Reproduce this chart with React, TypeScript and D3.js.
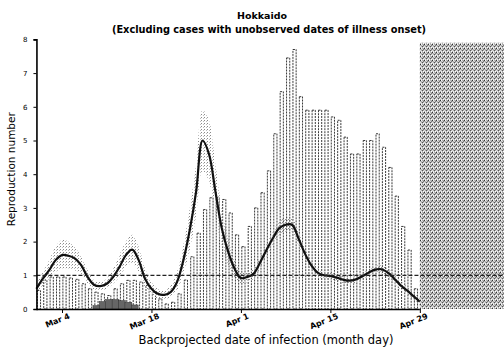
import { useEffect, useRef } from "react";
import * as d3 from "d3";

// daily values, first day = Feb 29 2020
const firstDay = new Date(2020, 1, 29);

// Rt estimate (thick line), Feb 29 .. Apr 29
const rtMedian = [0.6, 0.9, 1.15, 1.45, 1.6, 1.58, 1.5, 1.3, 0.95, 0.72,
    0.68, 0.75, 0.95, 1.25, 1.6, 1.76, 1.45, 0.9, 0.6, 0.45,
    0.42, 0.5, 0.8, 1.45, 2.35, 3.5, 5.0, 4.6, 3.5, 2.4,
    1.7, 1.2, 0.92, 0.95, 1.05, 1.38, 1.75, 2.1, 2.4, 2.5,
    2.5, 2.1, 1.65, 1.3, 1.08, 1.0, 0.98, 0.93, 0.87, 0.84,
    0.88, 0.97, 1.08, 1.17, 1.18, 1.08, 0.9, 0.7, 0.55, 0.38, 0.22];

const rtUpper = [0.75, 1.1, 1.45, 1.85, 2.05, 2.0, 1.85, 1.55, 1.15, 0.85,
    0.8, 0.9, 1.2, 1.6, 2.0, 2.2, 1.85, 1.2, 0.8, 0.6,
    0.55, 0.7, 1.1, 1.9, 3.0, 4.3, 5.9, 5.6, 4.3, 3.0,
    2.1, 1.45, 1.1, 1.1, 1.2, 1.55, 1.95, 2.3, 2.6, 2.7,
    2.7, 2.3, 1.8, 1.45, 1.2, 1.1, 1.08, 1.03, 0.97, 0.94,
    0.98, 1.07, 1.18, 1.28, 1.3, 1.2, 1.02, 0.82, 0.67, 0.5, 0.35];

const rtLower = [0.45, 0.7, 0.9, 1.1, 1.2, 1.2, 1.15, 1.05, 0.75, 0.58,
    0.55, 0.6, 0.75, 0.95, 1.25, 1.35, 1.1, 0.65, 0.42, 0.3,
    0.3, 0.35, 0.55, 1.05, 1.75, 2.8, 4.1, 3.8, 2.7, 1.85,
    1.3, 0.95, 0.75, 0.8, 0.9, 1.2, 1.55, 1.9, 2.2, 2.3,
    2.3, 1.9, 1.5, 1.15, 0.95, 0.9, 0.88, 0.83, 0.77, 0.74,
    0.78, 0.87, 0.98, 1.06, 1.06, 0.96, 0.78, 0.58, 0.43, 0.26, 0.1];

// backprojected infections (bars), drawn on the same vertical scale, Feb 29 .. Apr 28
const infections = [0.55, 0.85, 0.95, 0.95, 0.95, 0.92, 0.88, 0.75, 0.6, 0.5,
    0.45, 0.4, 0.6, 0.75, 0.85, 0.85, 0.8, 0.7, 0.5, 0.3,
    0.15, 0.2, 0.45, 0.86, 1.55, 2.25, 2.95, 3.3, 3.3, 3.25,
    2.85, 2.2, 1.85, 2.45, 3.0, 3.45, 4.1, 5.2, 6.45, 7.45,
    7.7, 6.3, 5.9, 5.9, 5.9, 5.9, 5.7, 5.6, 5.1, 4.6,
    4.6, 5.0, 5.0, 5.2, 4.8, 4.2, 3.35, 2.45, 1.75, 0.6];

// second (dark) bar series, Mar 9 .. Mar 15
const otherStart = new Date(2020, 2, 9);
const otherCases = [0.1, 0.22, 0.28, 0.28, 0.25, 0.2, 0.12];

const tickDates = [new Date(2020, 2, 4), new Date(2020, 2, 18), new Date(2020, 3, 1),
    new Date(2020, 3, 15), new Date(2020, 3, 29)];
const yTicks = [0, 1, 2, 3, 4, 5, 6, 7, 8];
const cutoff = new Date(2020, 3, 29);

const dayAt = (start: Date, i: number) => d3.timeDay.offset(start, i);

export default function App() {
    const svgRef = useRef<SVGSVGElement | null>(null);
    const W = 504;
    const H = 350;

    useEffect(() => {
        document.body.style.margin = "0";
        const svg = d3.select(svgRef.current);
        svg.selectAll("*").remove();

        const pxPerDay = 6.39;
        const x0 = 62 - 4 * pxPerDay;
        const x = d3.scaleTime()
            .domain([firstDay, d3.timeDay.offset(firstDay, 75)])
            .range([x0, x0 + 75 * pxPerDay]);
        const y = d3.scaleLinear().domain([0, 8]).range([309, 39.4]);
        const font = "DejaVu Sans, sans-serif";

        const defs = svg.append("defs");
        const dots = defs.append("pattern")
            .attr("id", "ci-dots")
            .attr("width", 3).attr("height", 3)
            .attr("patternUnits", "userSpaceOnUse");
        dots.append("rect").attr("x", 0).attr("y", 0).attr("width", 1).attr("height", 1).attr("fill", "#8a8a8a");
        dots.append("rect").attr("x", 2).attr("y", 1).attr("width", 1).attr("height", 1).attr("fill", "#bdbdbd");

        const dither = defs.append("pattern")
            .attr("id", "dither")
            .attr("width", 4).attr("height", 4)
            .attr("patternUnits", "userSpaceOnUse");
        dither.append("rect").attr("width", 4).attr("height", 4).attr("fill", "#b0b0b0");
        const px: [number, number, string][] = [[0, 0, "#333"], [2, 2, "#555"], [3, 1, "#777"],
            [1, 0, "#f4f4f4"], [3, 3, "#fff"], [0, 2, "#e8e8e8"], [2, 1, "#d6d6d6"], [1, 3, "#ececec"]];
        px.forEach(([a, b, c]) => dither.append("rect").attr("x", a).attr("y", b).attr("width", 1).attr("height", 1).attr("fill", c));

        // titles
        svg.append("text").attr("x", 262).attr("y", 19).attr("text-anchor", "middle")
            .style("font-family", font).style("font-weight", "bold").style("font-size", "9.5px")
            .text("Hokkaido");
        svg.append("text").attr("x", 269).attr("y", 33).attr("text-anchor", "middle")
            .style("font-family", font).style("font-weight", "bold").style("font-size", "9.8px")
            .text("(Excluding cases with unobserved dates of illness onset)");

        // bars
        const barW = 3.2;
        svg.append("g").selectAll("rect")
            .data(infections)
            .join("rect")
            .attr("x", (_d, i) => x(dayAt(firstDay, i)) + 2.5 - barW / 2)
            .attr("y", d => y(d))
            .attr("width", barW)
            .attr("height", d => y(0) - y(d))
            .attr("fill", "none")
            .attr("stroke", "#222")
            .attr("stroke-width", 0.9)
            .attr("stroke-dasharray", "2,1");

        svg.append("g").selectAll("rect")
            .data(otherCases)
            .join("rect")
            .attr("x", (_d, i) => x(dayAt(otherStart, i)) - 1)
            .attr("y", d => y(d))
            .attr("width", pxPerDay + 0.5)
            .attr("height", d => y(0) - y(d))
            .attr("fill", "#666")
            .attr("stroke", "#333")
            .attr("stroke-width", 0.5);

        // credible interval
        const ci = d3.area<number>()
            .x((_d, i) => x(dayAt(firstDay, i)))
            .y0((_d, i) => y(rtLower[i]))
            .y1(d => y(d))
            .curve(d3.curveCatmullRom);
        svg.append("path")
            .datum(rtUpper)
            .attr("d", ci)
            .attr("fill", "url(#ci-dots)");

        const line = d3.line<number>()
            .x((_d, i) => x(dayAt(firstDay, i)))
            .y(d => y(d))
            .curve(d3.curveCatmullRom);
        svg.append("path")
            .datum(rtMedian)
            .attr("d", line)
            .attr("fill", "none")
            .attr("stroke", "#111")
            .attr("stroke-width", 2.2);

        // right-censored period
        svg.append("rect")
            .attr("x", x(cutoff))
            .attr("y", y(7.9))
            .attr("width", W - x(cutoff))
            .attr("height", y(0) - y(7.9))
            .attr("fill", "url(#dither)");

        // threshold R = 1
        svg.append("line")
            .attr("x1", x0).attr("x2", W)
            .attr("y1", y(1)).attr("y2", y(1))
            .attr("stroke", "#222")
            .attr("stroke-width", 1.2)
            .attr("stroke-dasharray", "4,2");

        // axes
        const xAxis = svg.append("g")
            .attr("transform", `translate(0,${y(0)})`)
            .call(d3.axisBottom(x).tickValues(tickDates).tickSize(4)
                .tickFormat(d => d3.timeFormat("%b %-d")(d as Date)));
        xAxis.select(".domain").attr("d", `M${x0},0.5H${x(cutoff)}`).attr("stroke-width", 1.6);
        xAxis.selectAll("text")
            .style("font-family", font).style("font-size", "8px").style("font-weight", "bold")
            .attr("text-anchor", "end")
            .attr("dx", "0.5em").attr("dy", "0.55em")
            .attr("transform", "rotate(-22)");

        const yAxis = svg.append("g")
            .attr("transform", `translate(${x0},0)`)
            .call(d3.axisLeft(y).tickValues(yTicks).tickSize(3).tickPadding(6));
        yAxis.select(".domain").attr("stroke-width", 1.6);
        yAxis.selectAll("text")
            .style("font-family", font).style("font-size", "7px");

        svg.append("text").attr("x", 266).attr("y", 344).attr("text-anchor", "middle")
            .style("font-family", font).style("font-size", "11.5px")
            .text("Backprojected date of infection (month day)");
        svg.append("text")
            .attr("transform", `translate(15,${(y(0) + y(8)) / 2 - 5}) rotate(-90)`)
            .attr("text-anchor", "middle")
            .style("font-family", font).style("font-size", "10.5px")
            .text("Reproduction number");
    }, []);

    return (
        <svg ref={svgRef} width={W} height={H}
            style={{ position: "absolute", left: 0, top: 0, background: "#fff", display: "block" }} />
    );
}
